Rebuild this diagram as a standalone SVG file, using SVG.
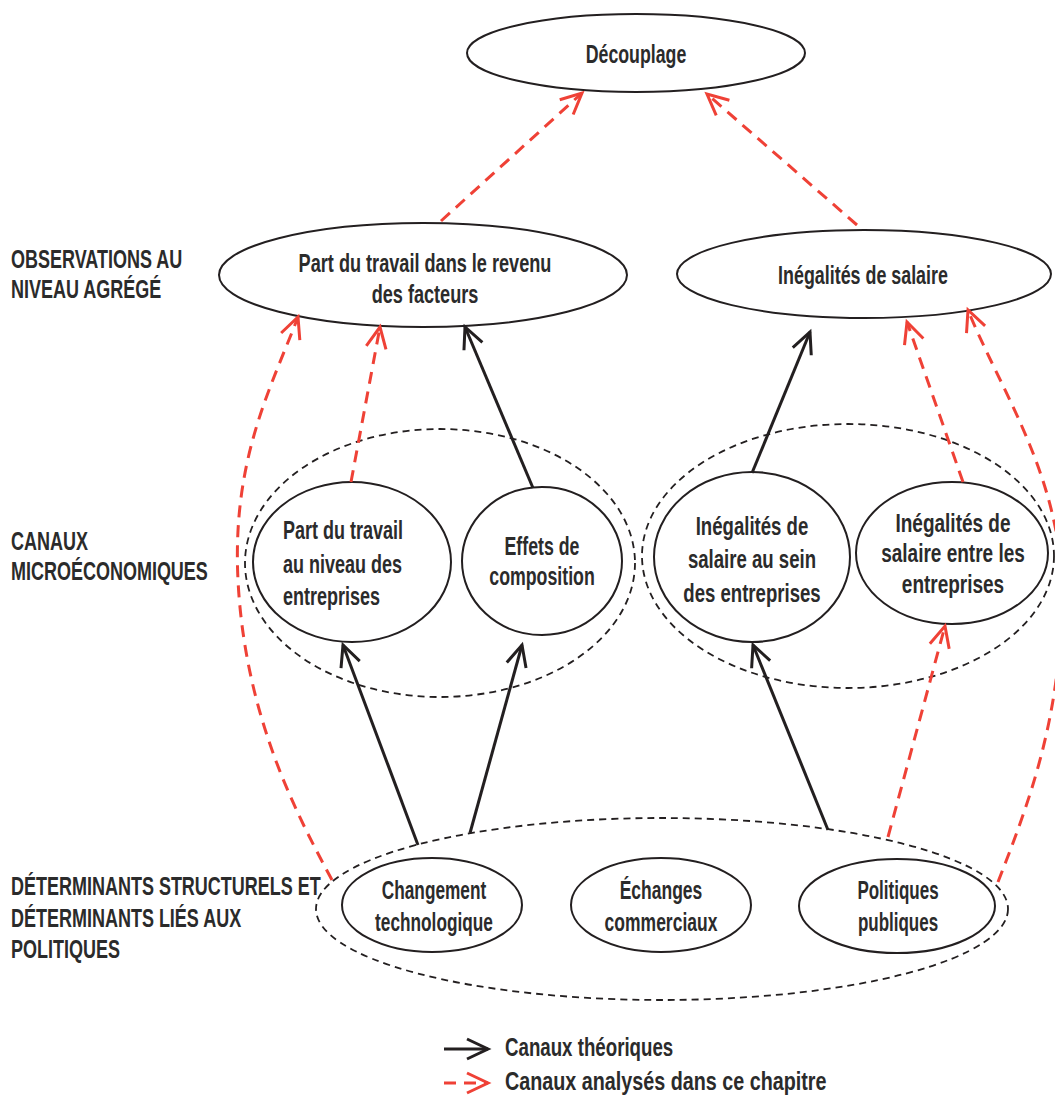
<svg xmlns="http://www.w3.org/2000/svg" width="1055" height="1095" viewBox="0 0 1055 1095">
<style>
text{font-family:"Liberation Sans",Arial,sans-serif;font-weight:bold;fill:#2b2b2b;font-size:25px}
.c{text-anchor:middle}
.node{fill:#fff;stroke:#231f20;stroke-width:2}
.grp{fill:none;stroke:#231f20;stroke-width:1.8;stroke-dasharray:7 5}
.blk{fill:none;stroke:#231f20;stroke-width:3}
.red{fill:none;stroke:#ef4136;stroke-width:3;stroke-dasharray:12 8}
</style>
<defs>
<marker id="aB" markerUnits="userSpaceOnUse" markerWidth="30" markerHeight="30" refX="22" refY="11" orient="auto" overflow="visible">
<path d="M1,1 L22,11 L1,21" fill="none" stroke="#231f20" stroke-width="3"/>
</marker>
<marker id="aR" markerUnits="userSpaceOnUse" markerWidth="30" markerHeight="30" refX="22" refY="11" orient="auto" overflow="visible">
<path d="M1,1 L22,11 L1,21" fill="none" stroke="#ef4136" stroke-width="3"/>
</marker>
</defs>
<rect width="1055" height="1095" fill="#fff"/>

<g id="labels" transform="translate(11 0) scale(0.72 1)">
<text x="0" y="268">OBSERVATIONS AU</text>
<text x="0" y="298">NIVEAU AGRÉGÉ</text>
<text x="0" y="550">CANAUX</text>
<text x="0" y="580">MICROÉCONOMIQUES</text>
<text x="0" y="895">DÉTERMINANTS STRUCTURELS ET</text>
<text x="0" y="927">DÉTERMINANTS LIÉS AUX</text>
<text x="0" y="958">POLITIQUES</text>
</g>

<g id="groups">
<ellipse id="grp-left" class="grp" cx="440" cy="563" rx="195" ry="134"/>
<ellipse id="grp-right" class="grp" cx="848" cy="556" rx="206" ry="132"/>
<ellipse id="grp-bottom" class="grp" cx="662" cy="909" rx="346" ry="91"/>
</g>

<g id="n-decouplage">
<ellipse class="node" cx="636" cy="53" rx="169" ry="39"/>
<g transform="translate(636 0) scale(0.71 1)" style="font-size:27px"><text class="c" x="0" y="63">Découplage</text></g>
</g>
<g id="n-part-revenu">
<ellipse class="node" cx="423" cy="275" rx="204" ry="52"/>
<g transform="translate(425 0) scale(0.725 1)" style="font-size:26px">
<text class="c" x="0" y="272">Part du travail dans le revenu</text>
<text class="c" x="0" y="303">des facteurs</text>
</g>
</g>
<g id="n-inegalites">
<ellipse class="node" cx="864" cy="274" rx="187" ry="44"/>
<g transform="translate(863 0) scale(0.715 1)" style="font-size:26.5px"><text class="c" x="0" y="284">Inégalités de salaire</text></g>
</g>
<g id="n-part-entreprises">
<ellipse class="node" cx="352" cy="562" rx="99" ry="80"/>
<g transform="translate(283 0) scale(0.72 1)" style="font-size:26px">
<text x="0" y="539">Part du travail</text>
<text x="0" y="573">au niveau des</text>
<text x="0" y="605">entreprises</text>
</g>
</g>
<g id="n-effets">
<ellipse class="node" cx="542" cy="561" rx="80" ry="74"/>
<g transform="translate(542 0) scale(0.71 1)" style="font-size:22px">
<text class="c" x="0" y="555">Effets de</text>
<text class="c" x="0" y="585">composition</text>
</g>
</g>
<g id="n-ineg-sein">
<ellipse class="node" cx="752" cy="557" rx="98" ry="85"/>
<g transform="translate(752 0) scale(0.744 1)" style="font-size:25px">
<text class="c" x="0" y="535">Inégalités de</text>
<text class="c" x="0" y="568">salaire au sein</text>
<text class="c" x="0" y="602">des entreprises</text>
</g>
</g>
<g id="n-ineg-entre">
<ellipse class="node" cx="952" cy="553" rx="96" ry="71"/>
<g transform="translate(953 0) scale(0.76 1)" style="font-size:22px">
<text class="c" x="0" y="532">Inégalités de</text>
<text class="c" x="0" y="562">salaire entre les</text>
<text class="c" x="0" y="593">entreprises</text>
</g>
</g>
<g id="n-changement">
<ellipse class="node" cx="432" cy="905" rx="90" ry="47"/>
<g transform="translate(434 0) scale(0.69 1)" style="font-size:24px">
<text class="c" x="0" y="899">Changement</text>
<text class="c" x="0" y="931">technologique</text>
</g>
</g>
<g id="n-echanges">
<ellipse class="node" cx="661" cy="905" rx="90" ry="47"/>
<g transform="translate(661 0) scale(0.70 1)" style="font-size:24px">
<text class="c" x="0" y="899">Échanges</text>
<text class="c" x="0" y="931">commerciaux</text>
</g>
</g>
<g id="n-politiques">
<ellipse class="node" cx="897" cy="906" rx="98" ry="47"/>
<g transform="translate(898 0) scale(0.68 1)" style="font-size:24px">
<text class="c" x="0" y="899">Politiques</text>
<text class="c" x="0" y="931">publiques</text>
</g>
</g>

<g id="connectors">
<path class="red" d="M441,221 L582,93" marker-end="url(#aR)"/>
<path class="red" d="M857,225 L707,94" marker-end="url(#aR)"/>
<path class="blk" d="M533,488 L465,327" marker-end="url(#aB)"/>
<path class="red" d="M351,482 L380,327" marker-end="url(#aR)"/>
<path class="red" d="M332,880 C300,820 245,720 238,580 C232,460 270,390 298,317" marker-end="url(#aR)"/>
<path class="blk" d="M418,845 L343,645" marker-end="url(#aB)"/>
<path class="blk" d="M470,833 L522,645" marker-end="url(#aB)"/>
<path class="blk" d="M752,473 L810,332" marker-end="url(#aB)"/>
<path class="red" d="M963,482 L907,322" marker-end="url(#aR)"/>
<path class="red" d="M998,882 C1030,800 1060,720 1062,600 C1064,480 1000,390 968,310" marker-end="url(#aR)"/>
<path class="blk" d="M828,830 L753,645" marker-end="url(#aB)"/>
<path class="red" d="M888,837 L945,626" marker-end="url(#aR)"/>
</g>

<g id="legend">
<path class="blk" d="M444,1049 L488,1049" marker-end="url(#aB)"/>
<path class="red" d="M444,1083 L488,1083" stroke-dasharray="9 8" marker-end="url(#aR)"/>
<g transform="translate(505 0) scale(0.748 1)" style="font-size:24.5px">
<text x="0" y="1056">Canaux théoriques</text>
</g>
<g transform="translate(505 0) scale(0.79 1)" style="font-size:24.5px">
<text x="0" y="1090">Canaux analysés dans ce chapitre</text>
</g>
</g>
</svg>
